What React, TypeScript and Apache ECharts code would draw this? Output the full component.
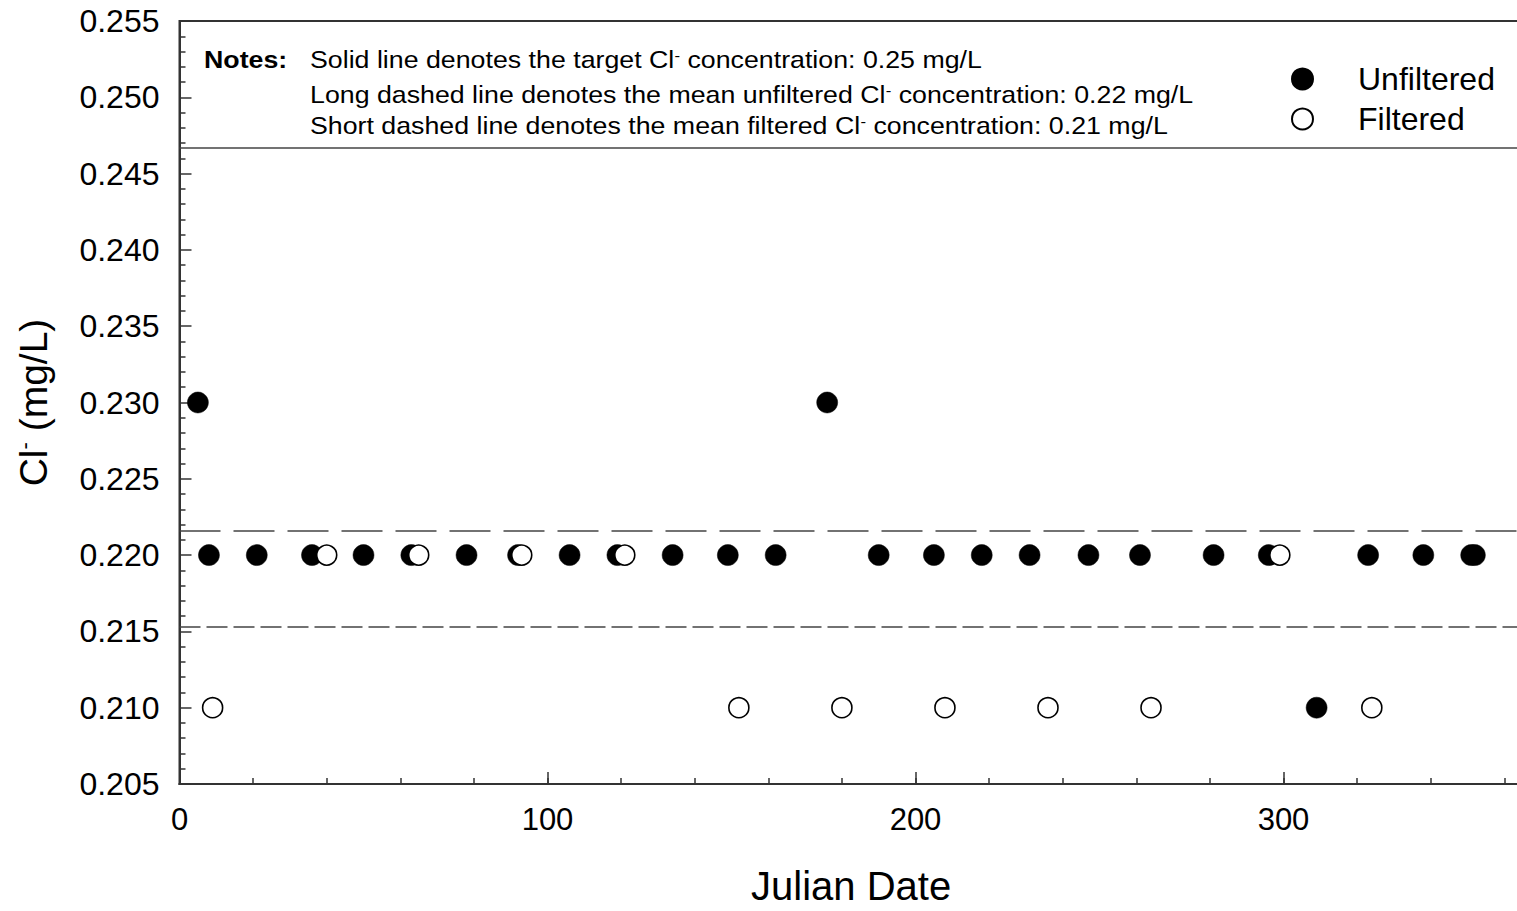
import React, { useEffect, useRef } from 'react';
import * as echarts from 'echarts';

// ---- data ----
const unfilteredDays = [5, 8, 21, 36, 50, 63, 78, 92, 106, 119, 134, 149, 162, 176, 190, 205, 218, 231, 247, 261, 281, 296, 309, 323, 338, 351, 352];
const unfilteredValues = [0.23, 0.22, 0.22, 0.22, 0.22, 0.22, 0.22, 0.22, 0.22, 0.22, 0.22, 0.22, 0.22, 0.23, 0.22, 0.22, 0.22, 0.22, 0.22, 0.22, 0.22, 0.22, 0.21, 0.22, 0.22, 0.22, 0.22];
const filteredDays = [9, 40, 65, 93, 121, 152, 180, 208, 236, 264, 299, 324];
const filteredValues = [0.21, 0.22, 0.22, 0.22, 0.22, 0.21, 0.21, 0.21, 0.21, 0.21, 0.22, 0.21];

const targetLine = 0.2467;
const meanUnfilteredLine = 0.2216;
const meanFilteredLine = 0.2153;

const noteLines = [
  ['Solid line denotes the target Cl', ' concentration: 0.25 mg/L'],
  ['Long dashed line denotes the mean unfiltered Cl', ' concentration: 0.22 mg/L'],
  ['Short dashed line denotes the mean filtered Cl', ' concentration: 0.21 mg/L'],
];

const xMin = 0;
const xMax = 365;
const xMajor = 100;
const xMinor = 20;
const yMin = 0.205;
const yMax = 0.255;
const yStep = 0.005;

const FONT = 'Liberation Sans, Arial, Helvetica, sans-serif';
const AXIS_COLOR = '#333';

export default function App() {
  const ref = useRef<HTMLDivElement>(null);
  useEffect(() => {
    if (!ref.current) return;
    const chart = echarts.init(ref.current, undefined, { renderer: 'svg' });
    const unf = unfilteredDays.map((d, i) => [d, unfilteredValues[i]]);
    const fil = filteredDays.map((d, i) => [d, filteredValues[i]]);
    const noteStyle = { fontSize: 24, fontFamily: FONT, fill: '#000' };
    const supStyle = { fontSize: 15, fontFamily: FONT, fill: '#000', verticalAlign: 'top', lineHeight: 4 };
    const noteY = [60, 95, 126];
    const NOTE_SCALE = 1.115;
    const noteGraphics: any[] = [
      {
        type: 'text',
        x: 204,
        y: noteY[0],
        scaleX: NOTE_SCALE,
        style: { text: 'Notes:', x: 0, y: 0, verticalAlign: 'middle', fontSize: 24, fontWeight: 'bold', fontFamily: FONT, fill: '#000' },
      },
    ];
    noteLines.forEach((parts, i) => {
      noteGraphics.push({
        type: 'text',
        x: 310,
        y: noteY[i],
        scaleX: NOTE_SCALE,
        style: {
          x: 0,
          y: 0,
          verticalAlign: 'middle',
          text: `{n|${parts[0]}}{s|-}{n|${parts[1]}}`,
          rich: { n: noteStyle, s: supStyle },
        },
      });
    });
    chart.setOption({
      animation: false,
      backgroundColor: '#fff',
      textStyle: { fontFamily: FONT },
      grid: {
        left: 179.5,
        top: 21,
        width: 1343.2,
        height: 767.3,
        show: true,
        borderColor: AXIS_COLOR,
        borderWidth: 2,
        backgroundColor: 'transparent',
      },
      legend: {
        orient: 'vertical',
        left: 1286,
        top: 58,
        itemWidth: 21,
        itemHeight: 21,
        itemGap: 8,
        selectedMode: false,
        textStyle: { fontSize: 32, fontFamily: FONT, color: '#000', padding: [0, 0, 0, 40] },
        data: [
          { name: 'Unfiltered', icon: 'circle' },
          { name: 'Filtered', icon: 'circle' },
        ],
      },
      xAxis: [
        {
          type: 'value',
          position: 'bottom',
          min: xMin,
          max: xMax,
          interval: xMajor,
          axisLine: { show: true, lineStyle: { color: AXIS_COLOR, width: 2 } },
          axisTick: { show: true, inside: true, length: 12, lineStyle: { color: AXIS_COLOR, width: 1.5 } },
          axisLabel: {
            show: true,
            fontSize: 31,
            color: '#000',
            fontFamily: FONT,
            margin: 20,
            showMaxLabel: false,
            formatter: (v: number) => (v % xMajor === 0 ? String(v) : ''),
          },
          splitLine: { show: false },
          name: 'Julian Date',
          nameLocation: 'middle',
          nameGap: 82,
          nameTextStyle: { fontSize: 40, color: '#000', fontFamily: FONT },
        },
        {
          type: 'value',
          position: 'bottom',
          min: xMin,
          max: xMax,
          interval: xMinor,
          axisLine: { show: true, lineStyle: { color: AXIS_COLOR, width: 2 } },
          axisTick: { show: true, inside: true, length: 6, lineStyle: { color: AXIS_COLOR, width: 1.5 } },
          axisLabel: { show: false },
          splitLine: { show: false },
        },
      ],
      yAxis: {
        type: 'value',
        min: yMin,
        max: yMax,
        interval: yStep,
        axisLine: { show: true, lineStyle: { color: AXIS_COLOR, width: 2 } },
        axisTick: { show: true, inside: true, length: 12, lineStyle: { color: AXIS_COLOR, width: 1.5 } },
        minorTick: { show: true, splitNumber: 5, length: 6, lineStyle: { color: AXIS_COLOR, width: 1.5 } },
        axisLabel: {
          fontSize: 32,
          color: '#000',
          fontFamily: FONT,
          margin: 20,
          formatter: (v: number) => v.toFixed(3),
        },
        splitLine: { show: false },
        name: '{n|Cl}{s|-}{n| (mg/L)}',
        nameLocation: 'middle',
        nameGap: 127,
        nameTextStyle: {
          fontSize: 39,
          color: '#000',
          fontFamily: FONT,
          rich: {
            n: { fontSize: 39, fontFamily: FONT, color: '#000' },
            s: { fontSize: 22, fontFamily: FONT, color: '#000', verticalAlign: 'top', lineHeight: 4 },
          },
        },
      },
      series: [
        {
          name: 'Unfiltered',
          type: 'scatter',
          xAxisIndex: 0,
          symbol: 'circle',
          symbolSize: 21,
          itemStyle: { color: '#000', borderColor: '#000', borderWidth: 0.5, opacity: 1 },
          data: unf,
          z: 3,
          markLine: {
            silent: true,
            symbol: 'none',
            precision: 5,
            label: { show: false },
            data: [
              { yAxis: targetLine, lineStyle: { type: 'solid', color: '#444', width: 1.5 } },
              { yAxis: meanUnfilteredLine, lineStyle: { type: [41, 13], color: '#444', width: 1.5 } },
              { yAxis: meanFilteredLine, lineStyle: { type: [21, 6], color: '#444', width: 1.5 } },
            ],
          },
        },
        {
          name: 'Filtered',
          type: 'scatter',
          xAxisIndex: 0,
          symbol: 'circle',
          symbolSize: 20,
          itemStyle: { color: '#fff', borderColor: '#000', borderWidth: 1.6, opacity: 1 },
          data: fil,
          z: 4,
        },
      ],
      graphic: noteGraphics,
    });
    return () => chart.dispose();
  }, []);
  return (
    <div style={{ position: 'fixed', left: 0, top: 0, width: 1517, height: 911, overflow: 'hidden', background: '#fff' }}>
      <div ref={ref} style={{ width: 1560, height: 911 }} />
    </div>
  );
}
